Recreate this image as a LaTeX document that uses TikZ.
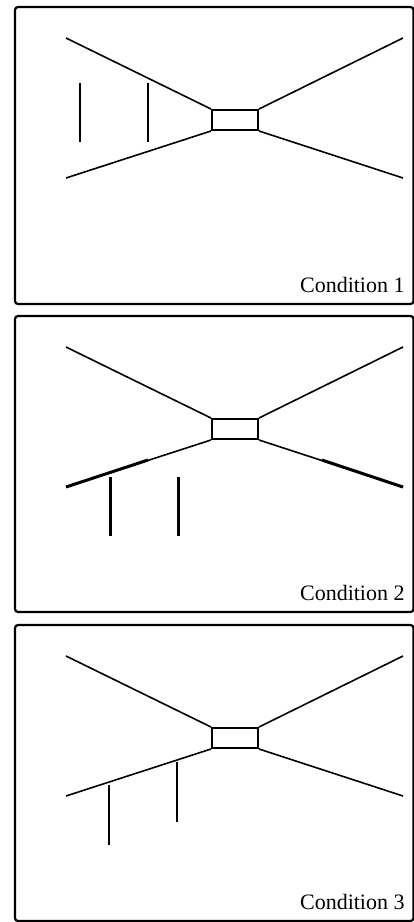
\documentclass[tikz,border=0pt]{standalone}
\usepackage{fontspec}
\setmainfont{Liberation Serif}
\begin{document}
\begin{tikzpicture}[
        x=0.5pt, y=-0.5pt,
        frame/.style={draw, line width=1.1pt, rounded corners=1.5pt},
        wall/.style={line width=0.8pt},
        bold/.style={line width=1.5pt},
        pole/.style={line width=1pt},
        box/.style={draw, line width=1pt, minimum width=23pt, minimum height=10pt, inner sep=0pt},
        label/.style={anchor=east, inner sep=0pt, font=\fontsize{11}{13}\selectfont}
    ]
    \useasboundingbox (0,0) rectangle (413,922);

    % Condition 1
    \begin{scope}[shift={(0,7)}]
    \draw[frame] (15,0) rectangle (413.5,297);
    \node[box] (E1) at (235,113) {};
    \coordinate (TL1) at (66,31);
    \coordinate (BL1) at (66,171);
    \coordinate (TR1) at (403,31);
    \coordinate (BR1) at (403,171);
    \draw[wall] (TL1) -- (E1.north west);
    \draw[wall] (BL1) -- (E1.south west);
    \draw[wall] (TR1) -- (E1.north east);
    \draw[wall] (BR1) -- (E1.south east);
    \coordinate (A1) at (80,76);   \coordinate (A1b) at (80,135);
    \coordinate (B1) at (148,76);  \coordinate (B1b) at (148,135);
    \draw[pole] (A1) -- (A1b);
    \draw[pole] (B1) -- (B1b);
    \node[label] (C1) at (405,278) {Condition 1};
    \end{scope}

    % Condition 2
    \begin{scope}[shift={(0,316)}]
    \draw[frame] (15,0) rectangle (413.5,296);
    \node[box] (E2) at (235,113) {};
    \coordinate (TL2) at (66,31);
    \coordinate (BL2) at (66,171);
    \coordinate (TR2) at (403,31);
    \coordinate (BR2) at (403,171);
    \draw[wall] (TL2) -- (E2.north west);
    \draw[wall] (BL2) -- (E2.south west);
    \draw[wall] (TR2) -- (E2.north east);
    \draw[wall] (BR2) -- (E2.south east);
    \coordinate (L2) at (148,144);
    \coordinate (R2) at (322,144);
    \draw[bold] (BL2) -- (L2);
    \draw[bold] (R2) -- (BR2);
    \coordinate (A2) at (110,161);  \coordinate (A2b) at (110,220);
    \coordinate (B2) at (178,161);  \coordinate (B2b) at (178,220);
    \draw[bold] (A2) -- (A2b);
    \draw[bold] (B2) -- (B2b);
    \node[label] (C2) at (405,277) {Condition 2};
    \end{scope}

    % Condition 3
    \begin{scope}[shift={(0,625)}]
    \draw[frame] (15,0) rectangle (413.5,296);
    \node[box] (E3) at (235,113) {};
    \coordinate (TL3) at (66,31);
    \coordinate (BL3) at (66,171);
    \coordinate (TR3) at (403,31);
    \coordinate (BR3) at (403,171);
    \draw[wall] (TL3) -- (E3.north west);
    \draw[wall] (BL3) -- (E3.south west);
    \draw[wall] (TR3) -- (E3.north east);
    \draw[wall] (BR3) -- (E3.south east);
    \coordinate (A3) at (109,160);  \coordinate (A3b) at (109,220);
    \coordinate (B3) at (177,137);  \coordinate (B3b) at (177,197);
    \draw[pole] (A3) -- (A3b);
    \draw[pole] (B3) -- (B3b);
    \node[label] (C3) at (405,277) {Condition 3};
    \end{scope}
\end{tikzpicture}
\end{document}
